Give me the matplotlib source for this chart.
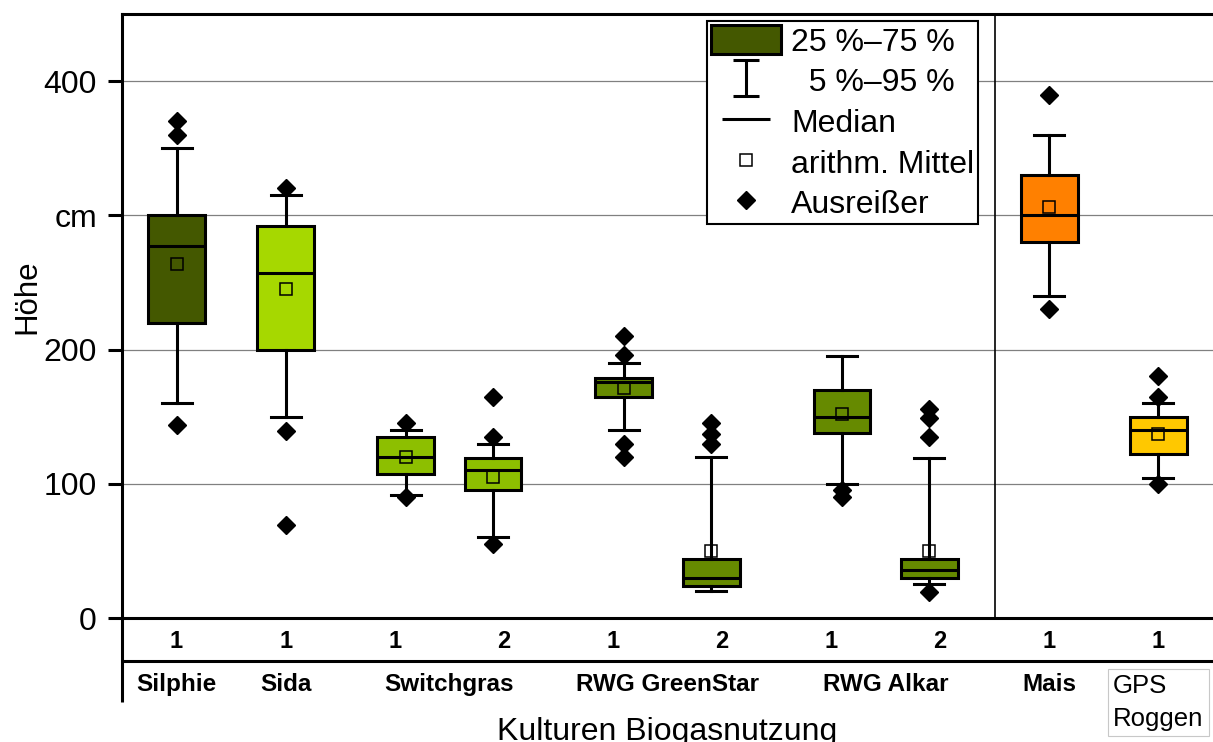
import numpy as np
import matplotlib
matplotlib.use('Agg')
import matplotlib.pyplot as plt
from matplotlib.patches import Patch
from matplotlib.lines import Line2D
from matplotlib.path import Path
from matplotlib.transforms import blended_transform_factory

plt.rcParams['font.family'] = ['Liberation Sans', 'DejaVu Sans']

# Wuchshoehen je Kultur und Standjahr (cm)
groups = ['Silphie', 'Sida', 'Switchgras', 'RWG GreenStar', 'RWG Alkar', 'Mais']
group_last = 'GPS\nRoggen'
years = ['1', '1', '1', '2', '1', '2', '1', '2', '1', '1']
p5 = [160, 150, 92, 60, 140, 20, 100, 25, 240, 104]
q1 = [220, 200, 107, 95, 165, 24, 138, 30, 280, 122]
med = [277, 257, 120, 110, 176, 30, 150, 36, 300, 140]
q3 = [300, 292, 135, 119, 179, 44, 170, 44, 330, 150]
p95 = [350, 315, 140, 130, 190, 120, 195, 119, 360, 160]
mean = [264, 245, 120, 105, 171, 50, 152, 50, 306, 137]
outliers = [[370, 360, 144], [320, 139, 69], [145, 90], [165, 135, 55],
            [210, 196, 130, 120], [145, 137, 130], [95, 90],
            [156, 149, 135, 19], [390, 230], [180, 165, 100]]

# layout
box_pos = [0, 1, 2.1, 2.9, 4.1, 4.9, 6.1, 6.9, 8, 9]
group_pos = [0, 1, 2.5, 4.5, 6.5, 8]
c_silphie = '#445800'
c_sida = '#a6d800'
c_switch = '#8dbf00'
c_rwg = '#668a00'
c_mais = '#ff8000'
c_gps = '#ffc800'
box_colors = [c_silphie, c_sida, c_switch, c_switch, c_rwg, c_rwg,
              c_rwg, c_rwg, c_mais, c_gps]

W, H = 1213, 742
fig = plt.figure(figsize=(W / 100, H / 100), dpi=100)
ax = fig.add_axes([122 / W, 124 / H, 1091 / W, 604 / H])

stats = []
for i in range(len(years)):
    stats.append(dict(med=med[i], q1=q1[i], q3=q3[i], whislo=p5[i],
                      whishi=p95[i], mean=mean[i], fliers=outliers[i]))

lw = 2.2
bp = ax.bxp(stats, positions=box_pos, widths=0.52, capwidths=0.275,
            patch_artist=True, showmeans=True, manage_ticks=False,
            boxprops=dict(linewidth=lw, edgecolor='black'),
            whiskerprops=dict(linewidth=lw, color='black'),
            capprops=dict(linewidth=lw, color='black'),
            medianprops=dict(linewidth=lw, color='black'),
            meanprops=dict(marker='s', markerfacecolor='none',
                           markeredgecolor='black', markersize=8.5,
                           markeredgewidth=1.1),
            flierprops=dict(marker='D', markerfacecolor='black',
                            markeredgecolor='black', markersize=9.5))
for patch, col in zip(bp['boxes'], box_colors):
    patch.set_facecolor(col)

ax.set_xlim(-0.5, 9.5)
ax.set_ylim(0, 450)
ax.axvline(7.5, color='black', lw=1.2)

ax.set_yticks([0, 100, 200, 300, 400], labels=['0', '100', '200', 'cm', '400'])
ax.tick_params(axis='y', labelsize=23, length=10, width=lw, pad=8)
ax.set_xticks([])
ax.yaxis.grid(True, color='#808080', lw=0.9)
ax.set_axisbelow(True)
for side in ['top', 'left', 'bottom']:
    ax.spines[side].set_linewidth(lw)
ax.spines['right'].set_visible(False)

# Tabellenzeilen unter der Achse
tr = blended_transform_factory(ax.transData, ax.transAxes)
for x, lab in enumerate(years):
    ax.text(x, -0.0497, lab, transform=tr, ha='center', va='baseline',
            fontsize=17, fontweight='bold')
for x, lab in zip(group_pos, groups):
    ax.text(x, -0.121, lab, transform=tr, ha='center', va='baseline',
            fontsize=17.5, fontweight='bold')
ax.text(8.585, -0.1788, group_last, transform=tr, ha='left', va='baseline',
        fontsize=18.5, linespacing=1.45,
        bbox=dict(boxstyle='square,pad=0.2', fc='white', ec='#c8c8c8', lw=0.8))
ax.plot([0, 1], [-0.0712, -0.0712], transform=ax.transAxes, color='black',
        lw=lw, clip_on=False, solid_capstyle='butt')
ax.plot([0, 0], [0, -0.139], transform=ax.transAxes, color='black',
        lw=lw, clip_on=False, solid_capstyle='butt')

fig.text(27 / W, 1 - 297 / H, 'Höhe', rotation=90, ha='center', va='center',
         fontsize=22.5)
fig.text(667 / W, 2 / H, 'Kulturen Biogasnutzung', ha='center', va='baseline',
         fontsize=23)

# Legende
ibar = Path([(-0.35, -0.5), (0.35, -0.5), (0, -0.5), (0, 0.5), (-0.35, 0.5), (0.35, 0.5)],
            [Path.MOVETO, Path.LINETO, Path.MOVETO, Path.LINETO, Path.MOVETO, Path.LINETO])
handles = [
    Patch(facecolor=c_silphie, edgecolor='black', linewidth=lw),
    Line2D([], [], marker=ibar, markersize=26, markeredgewidth=lw,
           markerfacecolor='none', color='black', linestyle='none'),
    Line2D([], [], marker='_', markersize=34, markeredgewidth=lw,
           color='black', linestyle='none'),
    Line2D([], [], marker='s', markersize=8.5, markerfacecolor='white',
           markeredgecolor='black', markeredgewidth=1.1, linestyle='none'),
    Line2D([], [], marker='D', markersize=9.5, color='black', linestyle='none'),
]
labels = ['25 %–75 %', '  5 %–95 %', 'Median', 'arithm. Mittel', 'Ausreißer']
leg = ax.legend(handles, labels, loc='upper right',
                bbox_to_anchor=((978 - 122) / 1091, (618 - 21) / 604),
                borderaxespad=0, fontsize=23, handlelength=2.2,
                handleheight=1.05, handletextpad=0.3, labelspacing=0.25,
                borderpad=0.12, fancybox=False, framealpha=1, numpoints=1)
leg.get_frame().set_edgecolor('black')
leg.get_frame().set_linewidth(1.5)

fig.savefig('out.png', dpi=100)
